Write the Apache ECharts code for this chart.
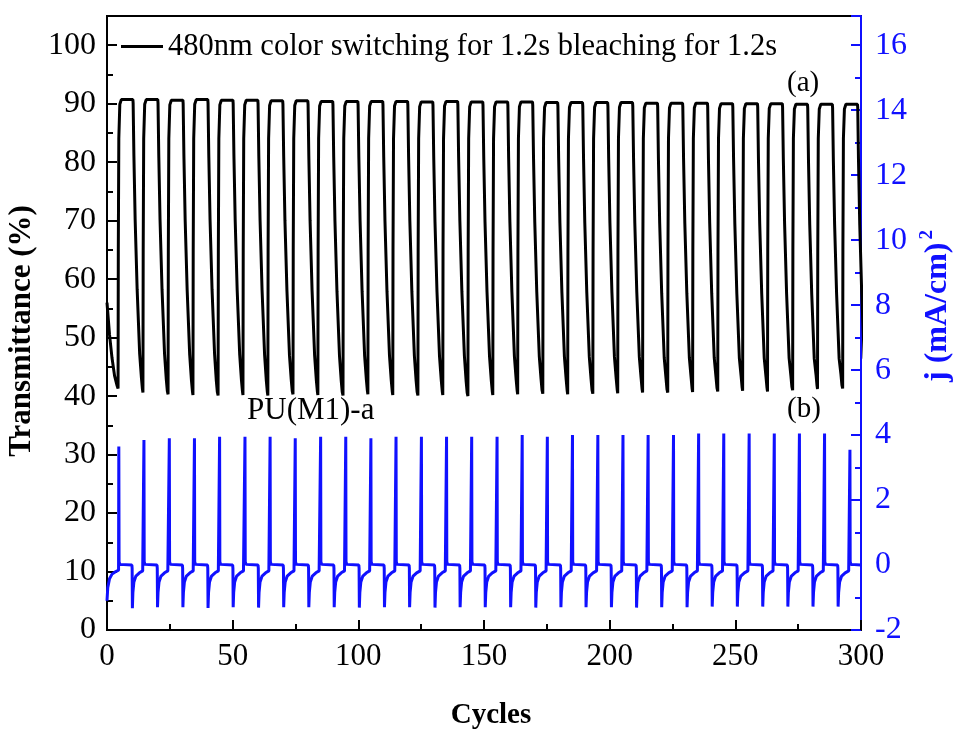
<!DOCTYPE html>
<html>
<head>
<meta charset="utf-8">
<script src="https://cdn.jsdelivr.net/npm/echarts@6/dist/echarts.min.js"></script>
<style>html,body{margin:0;padding:0;background:#fff;overflow:hidden;}#c{width:954px;height:731px;}</style>
</head>
<body>
<div id="c"></div>
<script>
// ---- data ----
const seriesNames = ['480nm color switching for 1.2s bleaching for 1.2s', 'PU(M1)-a'];
const panelLabels = ['(a)', '(b)', 'PU(M1)-a'];
const axisTitles = ['Cycles', 'Transmittance (%)', 'j (mA/cm)', '2'];

// Transmittance (%) vs cycles, [x, y]
const transmittance = [
[0,56],[1,50.5],[2,46.5],[3,43.5],[4,41.8],
[4.4,41.3],[4.5,65],[4.7,84],[5.1,89.9],[5.7,90.7],[10.3,90.7],[10.4,90.1],[10.7,81.2],[11.2,70.2],[12.0,58.2],[13.0,47.2],[13.7,43.1],[14.1,41.2],
[14.3,40.6],[14.4,65],[14.6,84],[15.0,89.9],[15.6,90.7],[20.2,90.7],[20.3,90.1],[20.6,81.2],[21.1,70.2],[21.9,58.2],[22.9,47.2],[23.6,42.8],[24.0,40.9],
[24.3,40.3],[24.4,65],[24.6,84],[25.0,89.8],[25.6,90.6],[30.2,90.6],[30.3,90.0],[30.6,81.1],[31.1,70.1],[31.9,58.1],[32.9,47.1],[33.6,42.7],[34.0,40.8],
[34.2,40.2],[34.3,65],[34.5,84],[34.9,89.9],[35.5,90.7],[40.1,90.7],[40.2,90.1],[40.5,81.2],[41.0,70.2],[41.8,58.2],[42.8,47.2],[43.5,42.6],[43.9,40.7],
[44.2,40.1],[44.3,65],[44.5,84],[44.9,89.8],[45.5,90.6],[50.1,90.6],[50.2,90.0],[50.5,81.1],[51.0,70.1],[51.8,58.1],[52.8,47.1],[53.5,42.7],[53.9,40.8],
[54.1,40.2],[54.2,65],[54.4,84],[54.8,89.8],[55.4,90.6],[60.0,90.6],[60.1,90.0],[60.4,81.1],[60.9,70.1],[61.7,58.1],[62.7,47.1],[63.4,42.6],[63.8,40.7],
[64.0,40.1],[64.1,65],[64.3,84],[64.7,89.7],[65.3,90.5],[69.9,90.5],[70.0,89.9],[70.3,81.0],[70.8,70.0],[71.6,58.0],[72.6,47.0],[73.3,42.8],[73.7,40.9],
[74.0,40.3],[74.1,65],[74.3,84],[74.7,89.7],[75.3,90.5],[79.9,90.5],[80.0,89.9],[80.3,81.0],[80.8,70.0],[81.6,58.0],[82.6,47.0],[83.3,42.7],[83.7,40.8],
[83.9,40.2],[84.0,65],[84.2,84],[84.6,89.6],[85.2,90.4],[89.8,90.4],[89.9,89.8],[90.2,80.9],[90.7,69.9],[91.5,57.9],[92.5,46.9],[93.2,42.6],[93.6,40.7],
[93.9,40.1],[94.0,65],[94.2,84],[94.6,89.6],[95.2,90.4],[99.8,90.4],[99.9,89.8],[100.2,80.9],[100.7,69.9],[101.5,57.9],[102.5,46.9],[103.2,42.8],[103.6,40.9],
[103.8,40.3],[103.9,65],[104.1,84],[104.5,89.6],[105.1,90.4],[109.7,90.4],[109.8,89.8],[110.1,80.9],[110.6,69.9],[111.4,57.9],[112.4,46.9],[113.1,42.7],[113.5,40.8],
[113.7,40.2],[113.8,65],[114.0,84],[114.4,89.6],[115.0,90.4],[119.6,90.4],[119.7,89.8],[120.0,80.9],[120.5,69.9],[121.3,57.9],[122.3,46.9],[123.0,42.6],[123.4,40.7],
[123.7,40.1],[123.8,65],[124.0,84],[124.4,89.5],[125.0,90.3],[129.6,90.3],[129.7,89.7],[130.0,80.8],[130.5,69.8],[131.3,57.8],[132.3,46.8],[133.0,42.7],[133.4,40.8],
[133.6,40.2],[133.7,65],[133.9,84],[134.3,89.6],[134.9,90.4],[139.5,90.4],[139.6,89.8],[139.9,80.9],[140.4,69.9],[141.2,57.9],[142.2,46.9],[142.9,42.5],[143.3,40.6],
[143.6,40.0],[143.7,65],[143.9,84],[144.3,89.5],[144.9,90.3],[149.5,90.3],[149.6,89.7],[149.9,80.8],[150.4,69.8],[151.2,57.8],[152.2,46.8],[152.9,42.7],[153.3,40.8],
[153.5,40.2],[153.6,65],[153.8,84],[154.2,89.5],[154.8,90.3],[159.4,90.3],[159.5,89.7],[159.8,80.8],[160.3,69.8],[161.1,57.8],[162.1,46.8],[162.8,42.8],[163.2,40.9],
[163.4,40.3],[163.5,65],[163.7,84],[164.1,89.5],[164.7,90.3],[169.3,90.3],[169.4,89.7],[169.7,80.8],[170.2,69.8],[171.0,57.8],[172.0,46.8],[172.7,42.9],[173.1,41.0],
[173.4,40.4],[173.5,65],[173.7,84],[174.1,89.4],[174.7,90.2],[179.3,90.2],[179.4,89.6],[179.7,80.7],[180.2,69.7],[181.0,57.7],[182.0,46.7],[182.7,42.8],[183.1,40.9],
[183.3,40.3],[183.4,65],[183.6,84],[184.0,89.4],[184.6,90.2],[189.2,90.2],[189.3,89.6],[189.6,80.7],[190.1,69.7],[190.9,57.7],[191.9,46.7],[192.6,42.9],[193.0,41.0],
[193.3,40.4],[193.4,65],[193.6,84],[194.0,89.4],[194.6,90.2],[199.2,90.2],[199.3,89.6],[199.6,80.7],[200.1,69.7],[200.9,57.7],[201.9,46.7],[202.6,43.0],[203.0,41.1],
[203.2,40.5],[203.3,65],[203.5,84],[203.9,89.4],[204.5,90.2],[209.1,90.2],[209.2,89.6],[209.5,80.7],[210.0,69.7],[210.8,57.7],[211.8,46.7],[212.5,43.1],[212.9,41.2],
[213.1,40.6],[213.2,65],[213.4,84],[213.8,89.3],[214.4,90.1],[219.0,90.1],[219.1,89.5],[219.4,80.6],[219.9,69.6],[220.7,57.6],[221.7,46.6],[222.4,43.1],[222.8,41.2],
[223.1,40.6],[223.2,65],[223.4,84],[223.8,89.3],[224.4,90.1],[229.0,90.1],[229.1,89.5],[229.4,80.6],[229.9,69.6],[230.7,57.6],[231.7,46.6],[232.4,43.2],[232.8,41.3],
[233.0,40.7],[233.1,65],[233.3,84],[233.7,89.3],[234.3,90.1],[238.9,90.1],[239.0,89.5],[239.3,80.6],[239.8,69.6],[240.6,57.6],[241.6,46.6],[242.3,43.3],[242.7,41.4],
[243.0,40.8],[243.1,65],[243.3,84],[243.7,89.2],[244.3,90.0],[248.9,90.0],[249.0,89.4],[249.3,80.5],[249.8,69.5],[250.6,57.5],[251.6,46.5],[252.3,43.4],[252.7,41.5],
[252.9,40.9],[253.0,65],[253.2,84],[253.6,89.2],[254.2,90.0],[258.8,90.0],[258.9,89.4],[259.2,80.5],[259.7,69.5],[260.5,57.5],[261.5,46.5],[262.2,43.3],[262.6,41.4],
[262.8,40.8],[262.9,65],[263.1,84],[263.5,89.2],[264.1,90.0],[268.7,90.0],[268.8,89.4],[269.1,80.5],[269.6,69.5],[270.4,57.5],[271.4,46.5],[272.1,43.5],[272.5,41.6],
[272.8,41.0],[272.9,65],[273.1,84],[273.5,89.1],[274.1,89.9],[278.7,89.9],[278.8,89.3],[279.1,80.4],[279.6,69.4],[280.4,57.4],[281.4,46.4],[282.1,43.7],[282.5,41.8],
[282.7,41.2],[282.8,65],[283.0,84],[283.4,89.1],[284.0,89.9],[288.6,89.9],[288.7,89.3],[289.0,80.4],[289.5,69.4],[290.3,57.4],[291.3,46.4],[292.0,43.8],[292.4,41.9],
[292.7,41.3],[292.8,65],[293.0,84],[293.4,89.1],[294.0,89.9],[298.6,89.9],[298.7,89.3],[299.0,80.4],[299.5,69.4],[300.3,57.4],[301.3,46.4]
];

// Current density j (mA/cm2) vs cycles, [x, y]
const currentDensity = [
[0,-1.1],[0.3,-0.7],[1,-0.42],[2,-0.28],[3.5,-0.2],
[4.6,-0.16],[4.7,3.65],[4.8,0.1],[5.1,0.02],[9.9,0],[10.0,-0.1],[10.1,-1.33],[10.3,-0.85],[10.7,-0.52],[11.5,-0.34],[12.9,-0.24],[14.2,-0.18],
[14.6,-0.16],[14.7,3.85],[14.8,0.1],[15.1,0.02],[19.9,0],[20.0,-0.1],[20.1,-1.3],[20.3,-0.85],[20.7,-0.52],[21.5,-0.34],[22.9,-0.24],[24.2,-0.18],
[24.7,-0.16],[24.8,3.9],[24.9,0.1],[25.2,0.02],[30.0,0],[30.1,-0.1],[30.2,-1.3],[30.4,-0.85],[30.8,-0.52],[31.6,-0.34],[33.0,-0.24],[34.3,-0.18],
[34.7,-0.16],[34.8,3.9],[34.9,0.1],[35.2,0.02],[40.0,0],[40.1,-0.1],[40.2,-1.32],[40.4,-0.85],[40.8,-0.52],[41.6,-0.34],[43.0,-0.24],[44.3,-0.18],
[44.7,-0.16],[44.8,3.95],[44.9,0.1],[45.2,0.02],[50.0,0],[50.1,-0.1],[50.2,-1.3],[50.4,-0.85],[50.8,-0.52],[51.6,-0.34],[53.0,-0.24],[54.3,-0.18],
[54.8,-0.16],[54.9,3.95],[55.0,0.1],[55.3,0.02],[60.1,0],[60.2,-0.1],[60.3,-1.31],[60.5,-0.85],[60.9,-0.52],[61.7,-0.34],[63.1,-0.24],[64.4,-0.18],
[64.8,-0.16],[64.9,3.95],[65.0,0.1],[65.3,0.02],[70.1,0],[70.2,-0.1],[70.3,-1.3],[70.5,-0.85],[70.9,-0.52],[71.7,-0.34],[73.1,-0.24],[74.4,-0.18],
[74.8,-0.16],[74.9,3.9],[75.0,0.1],[75.3,0.02],[80.1,0],[80.2,-0.1],[80.3,-1.3],[80.5,-0.85],[80.9,-0.52],[81.7,-0.34],[83.1,-0.24],[84.4,-0.18],
[84.9,-0.16],[85.0,3.95],[85.1,0.1],[85.4,0.02],[90.2,0],[90.3,-0.1],[90.4,-1.3],[90.6,-0.85],[91.0,-0.52],[91.8,-0.34],[93.2,-0.24],[94.5,-0.18],
[94.9,-0.16],[95.0,3.95],[95.1,0.1],[95.4,0.02],[100.2,0],[100.3,-0.1],[100.4,-1.31],[100.6,-0.85],[101.0,-0.52],[101.8,-0.34],[103.2,-0.24],[104.5,-0.18],
[104.9,-0.16],[105.0,3.9],[105.1,0.1],[105.4,0.02],[110.2,0],[110.3,-0.1],[110.4,-1.3],[110.6,-0.85],[111.0,-0.52],[111.8,-0.34],[113.2,-0.24],[114.5,-0.18],
[114.9,-0.16],[115.0,3.95],[115.1,0.1],[115.4,0.02],[120.2,0],[120.3,-0.1],[120.4,-1.3],[120.6,-0.85],[121.0,-0.52],[121.8,-0.34],[123.2,-0.24],[124.6,-0.18],
[125.0,-0.16],[125.1,3.95],[125.2,0.1],[125.5,0.02],[130.3,0],[130.4,-0.1],[130.5,-1.31],[130.7,-0.85],[131.1,-0.52],[131.9,-0.34],[133.3,-0.24],[134.6,-0.18],
[135.0,-0.16],[135.1,3.95],[135.2,0.1],[135.5,0.02],[140.3,0],[140.4,-0.1],[140.5,-1.3],[140.7,-0.85],[141.1,-0.52],[141.9,-0.34],[143.3,-0.24],[144.6,-0.18],
[145.0,-0.16],[145.1,3.95],[145.2,0.1],[145.5,0.02],[150.3,0],[150.4,-0.1],[150.5,-1.3],[150.7,-0.85],[151.1,-0.52],[151.9,-0.34],[153.3,-0.24],[154.7,-0.18],
[155.1,-0.16],[155.2,3.95],[155.3,0.1],[155.6,0.02],[160.4,0],[160.5,-0.1],[160.6,-1.3],[160.8,-0.85],[161.2,-0.52],[162.0,-0.34],[163.4,-0.24],[164.7,-0.18],
[165.1,-0.16],[165.2,4.0],[165.3,0.1],[165.6,0.02],[170.4,0],[170.5,-0.1],[170.6,-1.31],[170.8,-0.85],[171.2,-0.52],[172.0,-0.34],[173.4,-0.24],[174.7,-0.18],
[175.1,-0.16],[175.2,3.95],[175.3,0.1],[175.6,0.02],[180.4,0],[180.5,-0.1],[180.6,-1.3],[180.8,-0.85],[181.2,-0.52],[182.0,-0.34],[183.4,-0.24],[184.7,-0.18],
[185.1,-0.16],[185.2,4.0],[185.3,0.1],[185.6,0.02],[190.4,0],[190.5,-0.1],[190.6,-1.3],[190.8,-0.85],[191.2,-0.52],[192.0,-0.34],[193.4,-0.24],[194.8,-0.18],
[195.2,-0.16],[195.3,4.0],[195.4,0.1],[195.7,0.02],[200.5,0],[200.6,-0.1],[200.7,-1.3],[200.9,-0.85],[201.3,-0.52],[202.1,-0.34],[203.5,-0.24],[204.8,-0.18],
[205.2,-0.16],[205.3,4.0],[205.4,0.1],[205.7,0.02],[210.5,0],[210.6,-0.1],[210.7,-1.31],[210.9,-0.85],[211.3,-0.52],[212.1,-0.34],[213.5,-0.24],[214.8,-0.18],
[215.2,-0.16],[215.3,4.0],[215.4,0.1],[215.7,0.02],[220.5,0],[220.6,-0.1],[220.7,-1.3],[220.9,-0.85],[221.3,-0.52],[222.1,-0.34],[223.5,-0.24],[224.9,-0.18],
[225.3,-0.16],[225.4,4.0],[225.5,0.1],[225.8,0.02],[230.6,0],[230.7,-0.1],[230.8,-1.3],[231.0,-0.85],[231.4,-0.52],[232.2,-0.34],[233.6,-0.24],[234.9,-0.18],
[235.3,-0.16],[235.4,4.05],[235.5,0.1],[235.8,0.02],[240.6,0],[240.7,-0.1],[240.8,-1.28],[241.0,-0.85],[241.4,-0.52],[242.2,-0.34],[243.6,-0.24],[244.9,-0.18],
[245.3,-0.16],[245.4,4.05],[245.5,0.1],[245.8,0.02],[250.6,0],[250.7,-0.1],[250.8,-1.28],[251.0,-0.85],[251.4,-0.52],[252.2,-0.34],[253.6,-0.24],[255.0,-0.18],
[255.4,-0.16],[255.5,4.05],[255.6,0.1],[255.9,0.02],[260.7,0],[260.8,-0.1],[260.9,-1.28],[261.1,-0.85],[261.5,-0.52],[262.3,-0.34],[263.7,-0.24],[265.0,-0.18],
[265.4,-0.16],[265.5,4.05],[265.6,0.1],[265.9,0.02],[270.7,0],[270.8,-0.1],[270.9,-1.28],[271.1,-0.85],[271.5,-0.52],[272.3,-0.34],[273.7,-0.24],[275.0,-0.18],
[275.4,-0.16],[275.5,4.05],[275.6,0.1],[275.9,0.02],[280.7,0],[280.8,-0.1],[280.9,-1.28],[281.1,-0.85],[281.5,-0.52],[282.3,-0.34],[283.7,-0.24],[285.0,-0.18],
[285.4,-0.16],[285.5,4.05],[285.6,0.1],[285.9,0.02],[290.7,0],[290.8,-0.1],[290.9,-1.28],[291.1,-0.85],[291.5,-0.52],[292.3,-0.34],[293.7,-0.24],[295.1,-0.18],
[295.5,-0.16],[295.6,3.55],[295.7,0.1],[296.0,0.02],[300,0]
];

// axis ranges / ticks
const xRange = [0, 300], xStep = 50;
const leftRange = [0, 105], leftStep = 10;
const rightRange = [-2, 16.9], rightStep = 2;

// ---- chart ----
const FONT = '"Liberation Serif", "Times New Roman", serif';
const BLUE = '#1010ff';
const chart = echarts.init(document.getElementById('c'), null, {renderer: 'canvas'});
chart.setOption({
  animation: false,
  backgroundColor: '#fff',
  textStyle: {fontFamily: FONT},
  grid: {left: 107, right: 93, top: 16, bottom: 101, show: true, borderColor: '#000', borderWidth: 2,
         backgroundColor: 'transparent', containLabel: false, outerBoundsMode: 'none'},
  legend: {
    data: [seriesNames[0]],
    left: 116, top: 26,
    icon: 'rect', itemWidth: 42, itemHeight: 3, itemGap: 6,
    textStyle: {fontFamily: FONT, fontSize: 30.5, color: '#000'},
    selectedMode: false
  },
  xAxis: {
    type: 'value', min: xRange[0], max: xRange[1], interval: xStep,
    name: axisTitles[0], nameLocation: 'middle', nameGap: 71,
    nameTextStyle: {fontFamily: FONT, fontSize: 29, fontWeight: 'bold', color: '#000', padding: [0, 0, 0, 14]},
    axisLine: {onZero: false, lineStyle: {color: '#000', width: 2}},
    axisTick: {inside: true, length: 10, lineStyle: {color: '#000', width: 2}},
    minorTick: {show: true, splitNumber: 2, length: 6, lineStyle: {color: '#000', width: 2}},
    axisLabel: {fontFamily: FONT, fontSize: 31, color: '#000', margin: 11},
    splitLine: {show: false}
  },
  yAxis: [{
    type: 'value', min: leftRange[0], max: leftRange[1], interval: leftStep, position: 'left',
    name: axisTitles[1], nameLocation: 'middle', nameGap: 70, nameRotate: 90,
    nameTextStyle: {fontFamily: FONT, fontSize: 31, fontWeight: 'bold', color: '#000', padding: [0, 16, 0, 0]},
    axisLine: {show: true, lineStyle: {color: '#000', width: 2}},
    axisTick: {inside: true, length: 10, lineStyle: {color: '#000', width: 2}},
    minorTick: {show: true, splitNumber: 2, length: 6, lineStyle: {color: '#000', width: 2}},
    axisLabel: {fontFamily: FONT, fontSize: 32, color: '#000', margin: 11, showMaxLabel: false},
    splitLine: {show: false}
  }, {
    type: 'value', min: rightRange[0], max: rightRange[1], interval: rightStep, position: 'right',
    name: '{a|' + axisTitles[2] + '}{b|' + axisTitles[3] + '}', nameLocation: 'middle', nameGap: 56, nameRotate: 90,
    nameTextStyle: {
      color: BLUE, padding: [0, 0, 0, 34],
      rich: {
        a: {fontFamily: FONT, fontSize: 32, fontWeight: 'bold', color: BLUE},
        b: {fontFamily: FONT, fontSize: 19, fontWeight: 'bold', color: BLUE, verticalAlign: 'top', padding: [0, 0, 20, 3]}
      }
    },
    axisLine: {show: true, lineStyle: {color: BLUE, width: 2}},
    axisTick: {inside: true, length: 10, lineStyle: {color: BLUE, width: 2}},
    minorTick: {show: true, splitNumber: 2, length: 6, lineStyle: {color: BLUE, width: 2}},
    axisLabel: {fontFamily: FONT, fontSize: 32, color: BLUE, margin: 14, showMaxLabel: false},
    splitLine: {show: false}
  }],
  series: [{
    name: seriesNames[0], type: 'line', yAxisIndex: 0, data: transmittance,
    showSymbol: false, symbol: 'none', lineStyle: {color: '#000', width: 3}, itemStyle: {color: '#000'}, z: 3
  }, {
    name: seriesNames[1], type: 'line', yAxisIndex: 1, data: currentDensity,
    showSymbol: false, symbol: 'none', lineStyle: {color: BLUE, width: 3}, itemStyle: {color: BLUE}, z: 2
  }],
  graphic: [
    {type: 'text', left: 787, top: 69, style: {text: panelLabels[0], font: '29px ' + FONT, fill: '#000'}},
    {type: 'text', left: 787, top: 395, style: {text: panelLabels[1], font: '29px ' + FONT, fill: '#000'}},
    {type: 'text', left: 247, top: 395, style: {text: panelLabels[2], font: '31px ' + FONT, fill: '#000'}}
  ]
});
</script>
</body>
</html>
